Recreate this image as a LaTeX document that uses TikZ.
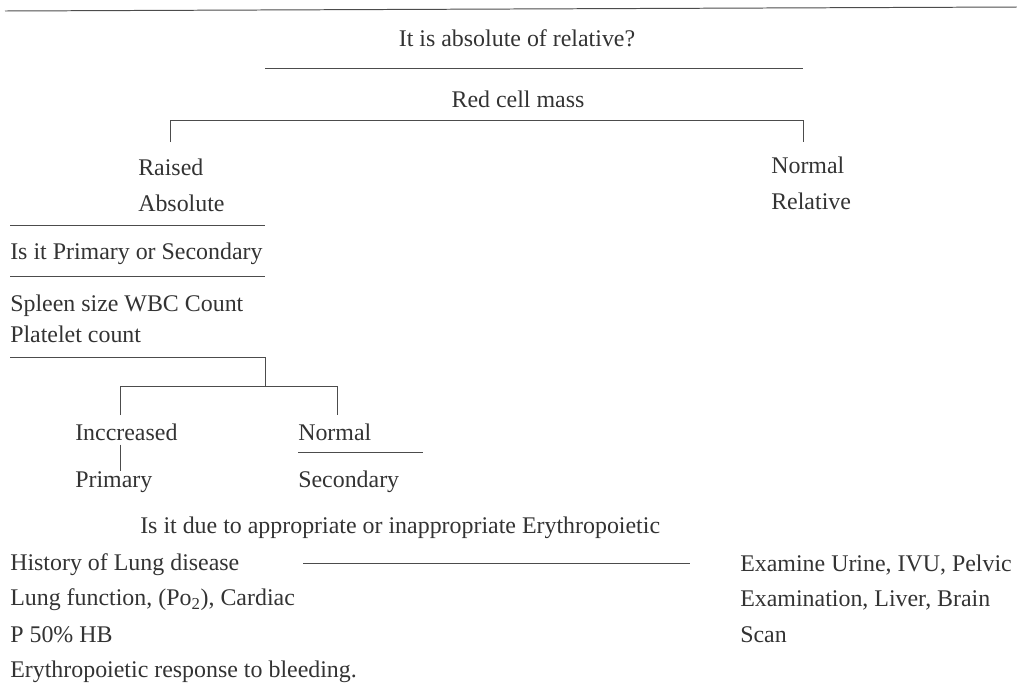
\documentclass[tikz,border=0pt]{standalone}
\usepackage{fontspec}
\setmainfont{Liberation Serif}
\usepackage{tikz}
\usetikzlibrary{positioning}

\begin{document}
\begin{tikzpicture}[x=0.025cm, y=-0.025cm,
  txt/.style={anchor=west, inner sep=0pt, text=black!80,
    font=\fontsize{17}{20}\selectfont},
  ctxt/.style={txt, anchor=center},
  rule/.style={draw=black!70, line width=0.7pt},
  branch/.style={draw=black!70, line width=0.6pt}
]
\useasboundingbox (0,0) rectangle (1017,692);

% top of the chart
\draw[rule] (5,11) -- (1017,7);
\node[ctxt] (ask) at (517,38) {It is absolute of relative?};
\coordinate (askL) at (265,68);
\coordinate (askR) at (803,68);
\draw[rule] (askL) -- (askR);
\node[ctxt] (rcm) at (518,99) {Red cell mass};

% absolute / relative
\node[txt] (raised) at (138,167) {Raised};
\node[txt] (absol) at (138,203) {Absolute};
\node[txt] (normr) at (771,165) {Normal};
\node[txt] (relat) at (771,201) {Relative};
\coordinate (brL) at (170,120);
\coordinate (brR) at (803,120);
\draw[branch] (brL) ++(0,22) -- (brL) -- (brR) -- ++(0,22);

% primary or secondary
\coordinate (absL) at (10,225);
\coordinate (absR) at (265,225);
\draw[rule] (absL) -- (absR);
\node[txt] (prisec) at (10,254) {Is it Primary or Secondary};
\coordinate (psL) at (10,276);
\coordinate (psR) at (265,276);
\draw[rule] (psL) -- (psR);
\node[txt] (spleen) at (10,306) {Spleen size WBC Count};
\node[txt] (plt) at (10,334) {Platelet count};
\coordinate (pltL) at (10,357);
\coordinate (pltR) at (265,357);
\draw[branch] (pltL) -- (pltR) -- (265,386);
\coordinate (incT) at (120,386);
\coordinate (norT) at (337,386);
\draw[branch] (incT) ++(0,29) -- (incT) -- (norT) -- ++(0,29);

% increased / normal
\node[txt] (incr) at (75,432) {Inccreased};
\node[txt] (prim) at (75,482) {Primary};
\node[txt] (norm) at (298,432) {Normal};
\node[txt] (secd) at (298,482) {Secondary};
\draw[branch] (incT |- incr.south) ++(0,4) -- (incT |- prim.north) ++(0,-4);
\coordinate (norL) at (298,452);
\coordinate (norR) at (423,452);
\draw[rule] (norL) -- (norR);

% appropriate or inappropriate
\node[txt] (due) at (140,528) {Is it due to appropriate or inappropriate Erythropoietic};
\node[txt] (hist) at (10,565) {History of Lung disease};
\node[txt] (lung) at (10,600) {Lung function, (Po\textsubscript{2}), Cardiac};
\node[txt] (p50) at (10,635) {P 50\% HB};
\node[txt] (bleed) at (10,672) {Erythropoietic response to bleeding.};
\node[txt] (urine) at (740,565) {Examine Urine, IVU, Pelvic};
\node[txt] (exam) at (740,600) {Examination, Liver, Brain};
\node[txt] (scan) at (740,635) {Scan};
\coordinate (midL) at (303,563);
\coordinate (midR) at (690,563);
\draw[rule] (midL) -- (midR);
\end{tikzpicture}
\end{document}
